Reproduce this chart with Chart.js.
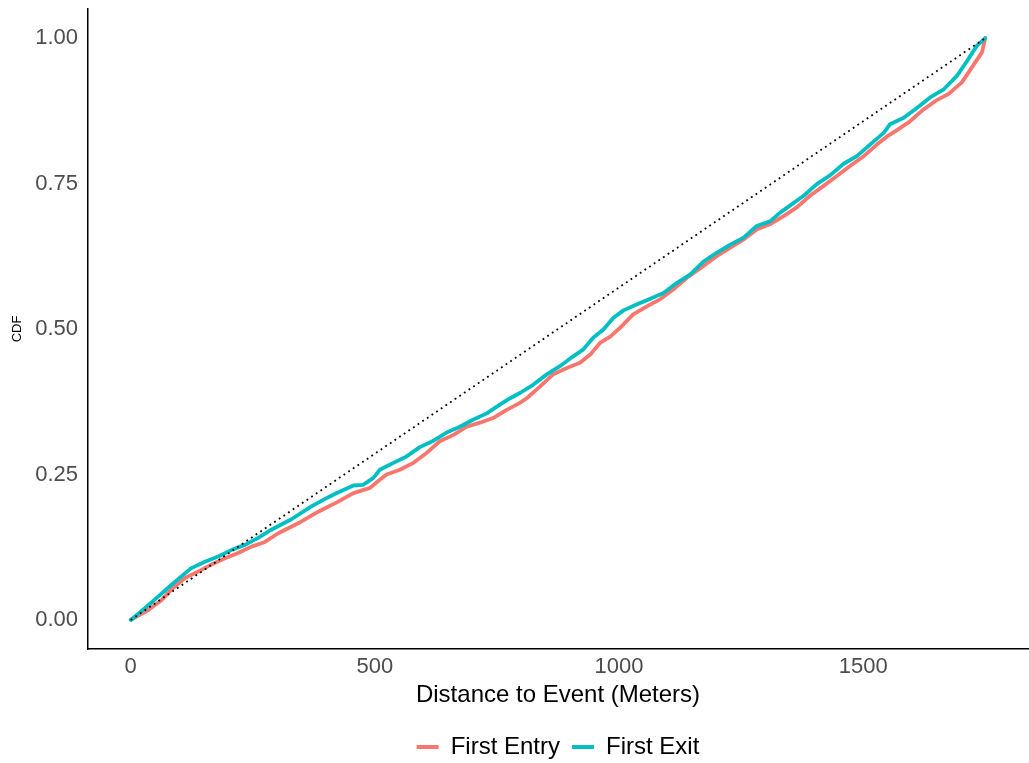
<!DOCTYPE html>
<html>
<head>
<meta charset="utf-8">
<script src="https://cdn.jsdelivr.net/npm/chart.js@4.4.1/dist/chart.umd.min.js"></script>
<style>
  html, body { margin: 0; padding: 0; background: #fff; }
  #c { display: block; }
</style>
</head>
<body>
<canvas id="c" width="1029" height="763"></canvas>
<script>
// distances in meters, CDF values
var entryDist = [0, 36, 63, 83, 111, 138, 165, 193, 220, 247, 275, 302, 343, 384, 422, 456, 490, 510, 524, 551, 579, 606, 633, 661, 688, 715, 742, 770, 797, 811, 838, 865, 893, 920, 941, 961, 982, 1002, 1029, 1057, 1084, 1111, 1139, 1166, 1200, 1228, 1255, 1282, 1309, 1337, 1364, 1391, 1419, 1446, 1473, 1501, 1528, 1549, 1566, 1593, 1620, 1648, 1675, 1702, 1723, 1743, 1750];
var entryCdf  = [0, 0.017, 0.034, 0.052, 0.072, 0.083, 0.095, 0.106, 0.115, 0.126, 0.134, 0.149, 0.166, 0.186, 0.202, 0.218, 0.227, 0.241, 0.250, 0.258, 0.270, 0.287, 0.307, 0.318, 0.332, 0.339, 0.347, 0.361, 0.373, 0.381, 0.401, 0.422, 0.433, 0.442, 0.456, 0.476, 0.487, 0.502, 0.525, 0.539, 0.551, 0.568, 0.588, 0.604, 0.625, 0.640, 0.654, 0.671, 0.680, 0.694, 0.709, 0.729, 0.746, 0.763, 0.780, 0.797, 0.817, 0.831, 0.840, 0.855, 0.875, 0.892, 0.904, 0.924, 0.950, 0.975, 1.0];

var exitDist = [0, 29, 56, 83, 111, 124, 152, 179, 206, 234, 261, 288, 329, 370, 398, 422, 456, 476, 497, 510, 538, 565, 592, 620, 647, 674, 701, 729, 756, 777, 797, 824, 852, 879, 906, 927, 947, 968, 988, 1009, 1036, 1064, 1091, 1118, 1146, 1173, 1200, 1228, 1255, 1282, 1309, 1330, 1350, 1378, 1405, 1432, 1460, 1487, 1514, 1542, 1555, 1583, 1610, 1637, 1665, 1692, 1713, 1733, 1750];
var exitCdf  = [0, 0.020, 0.040, 0.060, 0.080, 0.089, 0.100, 0.109, 0.120, 0.129, 0.141, 0.155, 0.173, 0.195, 0.208, 0.218, 0.231, 0.232, 0.244, 0.258, 0.270, 0.281, 0.297, 0.308, 0.322, 0.332, 0.344, 0.355, 0.370, 0.381, 0.390, 0.404, 0.422, 0.436, 0.453, 0.465, 0.485, 0.499, 0.519, 0.532, 0.542, 0.552, 0.562, 0.579, 0.594, 0.616, 0.631, 0.645, 0.657, 0.677, 0.685, 0.700, 0.712, 0.729, 0.749, 0.764, 0.784, 0.797, 0.817, 0.837, 0.852, 0.863, 0.880, 0.898, 0.912, 0.935, 0.961, 0.987, 1.0];

var refDist = [0, 1750];
var refCdf  = [0, 1];

var xTicks = [0, 500, 1000, 1500];
var yTicks = [0, 0.25, 0.5, 0.75, 1];

function pts(xs, ys) {
    return xs.map(function(x, i) { return { x: x, y: ys[i] }; });
}

var tickFont = { family: 'Liberation Sans', size: 22 };
var tickColor = '#4d4d4d';

var ctx = document.getElementById('c').getContext('2d');
var chart = new Chart(ctx, {
    type: 'line',
    data: {
        datasets: [{
            label: 'First Entry',
            data: pts(entryDist, entryCdf),
            borderColor: '#F8766D',
            backgroundColor: '#F8766D',
            borderWidth: 3.8,
            order: 2
        }, {
            label: 'First Exit',
            data: pts(exitDist, exitCdf),
            borderColor: '#00BFC4',
            backgroundColor: '#00BFC4',
            borderWidth: 3.8,
            order: 1
        }, {
            label: 'ref',
            data: pts(refDist, refCdf),
            borderColor: '#000000',
            borderWidth: 1.8,
            borderDash: [1.8, 3.8],
            borderCapStyle: 'butt',
            order: 0
        }]
    },
    options: {
        responsive: false,
        animation: false,
        devicePixelRatio: 1,
        elements: {
            point: { radius: 0 },
            line: { tension: 0, borderCapStyle: 'round', borderJoinStyle: 'round' }
        },
        layout: { padding: { left: 0, right: 1, top: 9, bottom: -6 } },
        plugins: {
            tooltip: { enabled: false },
            legend: {
                position: 'bottom',
                fullSize: false,
                labels: {
                    font: { family: 'Liberation Sans', size: 24 },
                    color: '#000',
                    boxWidth: 22,
                    boxHeight: 4,
                    padding: 12,
                    generateLabels: function(chart) {
                        return chart.data.datasets.slice(0, 2).map(function(ds, i) {
                            return {
                                text: ds.label,
                                fillStyle: ds.borderColor,
                                strokeStyle: ds.borderColor,
                                lineWidth: 0,
                                datasetIndex: i
                            };
                        });
                    }
                }
            }
        },
        scales: {
            x: {
                type: 'linear',
                min: -87.5,
                max: 1837.5,
                afterBuildTicks: function(scale) {
                    scale.ticks = xTicks.map(function(v) { return { value: v }; });
                },
                afterFit: function(scale) {
                    scale.height = 74;
                    scale.paddingLeft = 0;
                    scale.paddingRight = 0;
                },
                grid: { display: false, drawTicks: false },
                border: { display: true, color: '#000', width: 1.5 },
                ticks: {
                    font: tickFont,
                    color: tickColor,
                    padding: 5,
                    maxRotation: 0,
                    callback: function(v) { return String(v); }
                },
                title: {
                    display: true,
                    text: 'Distance to Event (Meters)',
                    font: { family: 'Liberation Sans', size: 24 },
                    color: '#000',
                    padding: { top: 0, bottom: 13 }
                }
            },
            y: {
                type: 'linear',
                min: -0.05,
                max: 1.05,
                afterBuildTicks: function(scale) {
                    scale.ticks = yTicks.map(function(v) { return { value: v }; });
                },
                afterFit: function(scale) {
                    scale.width = 88;
                    scale.paddingTop = 0;
                    scale.paddingBottom = 0;
                },
                grid: { display: false, drawTicks: false },
                border: { display: true, color: '#000', width: 1.5 },
                ticks: {
                    font: tickFont,
                    color: tickColor,
                    padding: 10,
                    callback: function(v) { return Number(v).toFixed(2); }
                },
                title: {
                    display: true,
                    text: 'CDF',
                    font: { family: 'Liberation Sans', size: 13 },
                    color: '#000',
                    padding: { top: 10, bottom: 0 }
                }
            }
        }
    }
});
</script>
</body>
</html>
